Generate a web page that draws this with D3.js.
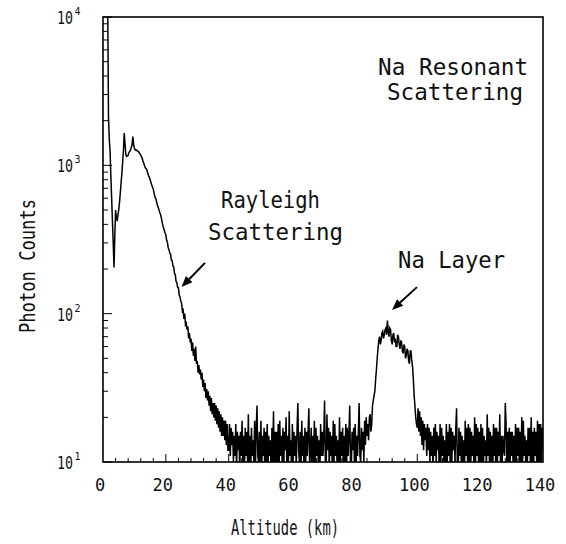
<!DOCTYPE html>
<html>
<head>
<meta charset="utf-8">
<script src="https://cdn.jsdelivr.net/npm/d3@7"></script>
<style>
  body { margin: 0; background: #fff; }
  svg { display: block; }
  text { font-family: "DejaVu Sans Mono", "Liberation Mono", monospace; fill: #111; }
</style>
</head>
<body>
<div id="chart"></div>
<script>
// lidar return, 0.25 km range bins starting at 0 km (one row = 5 km)
const binWidth = 0.25;
const counts = [
  40000, 40000, 40000, 38000, 35000, 30000, 12000, 2100, 1500, 1250, 850, 600, 420, 300, 205, 330, 500, 450, 420, 460,  // 0
  500, 560, 650, 760, 880, 1050, 1250, 1650, 1400, 1180, 1150, 1160, 1170, 1220, 1240, 1270, 1320, 1380, 1560, 1380,  // 5
  1300, 1270, 1260, 1265, 1250, 1240, 1220, 1195, 1170, 1140, 1110, 1060, 1030, 990, 960, 950, 930, 880, 850, 830,  // 10
  800, 770, 735, 715, 690, 650, 615, 600, 575, 545, 525, 505, 485, 470, 450, 420, 395, 380, 365, 350,  // 15
  340, 312, 302, 278, 270, 256, 252, 230, 228, 210, 207, 186, 184, 165, 162, 150, 150, 133, 130, 121,  // 20
  118, 104, 106, 92, 100, 84, 86, 78, 82, 68, 74, 64, 68, 56, 64, 52, 58, 48, 60, 46,  // 25
  48, 40, 45, 39, 42, 36, 40, 32, 36, 30, 34, 27, 31, 26, 30, 24, 28, 22, 27, 21,  // 30
  25, 20, 25, 19, 24, 18, 23, 17, 22, 16, 21, 15, 20, 15, 19, 14, 19, 13, 18, 12,  // 35
  12, 18, 11, 17, 13, 16, 10, 15, 11, 18, 9, 16, 12, 15, 9, 16, 11, 19, 10, 15,  // 40
  9, 17, 11, 16, 10, 21, 9, 15, 8, 17, 11, 14, 10, 19, 9, 17, 24, 11, 10, 16,  // 45
  10, 19, 9, 15, 11, 17, 8, 16, 10, 18, 9, 15, 11, 14, 8, 17, 10, 22, 9, 16,  // 50
  10, 16, 9, 18, 8, 19, 11, 15, 10, 17, 9, 16, 12, 20, 9, 15, 10, 22, 11, 14,  // 55
  8, 18, 10, 16, 11, 15, 9, 17, 25, 12, 10, 16, 9, 19, 11, 15, 8, 17, 10, 16,  // 60
  11, 16, 23, 9, 12, 17, 8, 15, 10, 19, 9, 17, 11, 15, 10, 14, 8, 18, 11, 16,  // 65
  11, 15, 26, 10, 9, 21, 12, 17, 9, 16, 11, 15, 8, 19, 10, 18, 11, 15, 9, 14,  // 70
  9, 20, 10, 16, 11, 17, 8, 15, 10, 18, 9, 17, 11, 15, 24, 10, 9, 16, 12, 17,  // 75
  10, 18, 9, 15, 11, 16, 25, 11, 10, 17, 12, 16, 10, 19, 13, 20, 15, 18, 14, 20,  // 80
  21, 16, 18, 24, 26, 28, 30, 36, 42, 50, 58, 66, 70, 62, 66, 74, 76, 68, 72, 78,  // 85
  80, 72, 90, 76, 70, 80, 78, 66, 62, 72, 74, 64, 68, 60, 60, 72, 70, 62, 58, 66,  // 90
  64, 56, 54, 62, 60, 50, 52, 58, 56, 48, 46, 56, 56, 48, 44, 36, 28, 24, 20, 18,  // 95
  17, 23, 16, 22, 15, 20, 13, 19, 12, 18, 14, 17, 11, 18, 12, 17, 10, 16, 11, 15,  // 100
  9, 17, 11, 18, 10, 16, 12, 15, 8, 18, 10, 17, 11, 15, 9, 14, 10, 18, 9, 16,  // 105
  11, 18, 9, 17, 10, 16, 12, 15, 10, 17, 23, 9, 8, 17, 11, 16, 10, 15, 9, 14,  // 110
  9, 19, 11, 17, 10, 18, 8, 17, 9, 16, 11, 15, 10, 20, 9, 18, 11, 17, 10, 16,  // 115
  10, 18, 9, 17, 8, 15, 11, 14, 9, 21, 11, 17, 9, 16, 10, 15, 8, 18, 11, 17,  // 120
  8, 17, 10, 16, 11, 21, 9, 15, 10, 15, 12, 11, 25, 18, 9, 16, 10, 17, 9, 16,  // 125
  11, 16, 9, 15, 8, 18, 10, 17, 11, 17, 9, 16, 10, 20, 9, 19, 11, 15, 10, 14,  // 130
  9, 17, 11, 17, 10, 20, 9, 16, 8, 17, 11, 16, 10, 19, 9, 18, 10, 18, 9, 17,  // 135
  12  // 140
];

const xTickValues = [0, 20, 40, 60, 80, 100, 120, 140];
const yDecades = [1, 2, 3, 4];

// annotation text: [label, km, counts at baseline, width px]
const labels = [
  ['Na Resonant', 111.4, 4064, 150],
  ['Scattering', 112.0, 2757, 136],
  ['Rayleigh', 53.3, 515, 99],
  ['Scattering', 54.9, 314, 135],
  ['Na Layer', 110.9, 203, 107]
];
// arrows: [tail km, tail counts, tip km, tip counts]
const arrows = [
  [32.45, 220, 24.98, 151],
  [99.9, 151, 91.95, 106]
];

const width = 566;
const height = 544;
const margin = { top: 17, right: 23, bottom: 82, left: 103 };

const svg = d3.select('#chart')
  .append('svg')
  .attr('width', width)
  .attr('height', height);

const xScale = d3.scaleLinear()
  .domain([0, 140])
  .range([margin.left, width - margin.right]);

const yScale = d3.scaleLog()
  .domain([10, 10000])
  .range([height - margin.bottom, margin.top]);

const data = counts.map((c, i) => ({ alt: i * binWidth, c }));

svg.append('clipPath')
  .attr('id', 'plot-clip')
  .append('rect')
  .attr('x', margin.left)
  .attr('y', margin.top)
  .attr('width', width - margin.left - margin.right)
  .attr('height', height - margin.top - margin.bottom);

// the profile
const line = d3.line()
  .x((d) => xScale(d.alt))
  .y((d) => yScale(d.c));

svg.append('path')
  .datum(data)
  .attr('clip-path', 'url(#plot-clip)')
  .attr('fill', 'none')
  .attr('stroke', '#000')
  .attr('stroke-width', 1.5)
  .attr('stroke-linejoin', 'miter')
  .attr('d', line);

// inward ticks
const ticks = svg.append('g').attr('stroke', '#000').attr('stroke-width', 1);
const x0 = margin.left;
const yBottom = height - margin.bottom;

d3.range(4, 140, 4).forEach((v) => {
  const len = v % 20 === 0 ? 8 : 4;
  ticks.append('line')
    .attr('x1', xScale(v)).attr('x2', xScale(v))
    .attr('y1', yBottom).attr('y2', yBottom - len);
});

yScale.ticks().forEach((v) => {
  const major = Math.abs(Math.log10(v) % 1) < 1e-9;
  ticks.append('line')
    .attr('x1', x0).attr('x2', x0 + (major ? 9 : 5))
    .attr('y1', yScale(v)).attr('y2', yScale(v));
});

// frame
svg.append('rect')
  .attr('x', margin.left)
  .attr('y', margin.top)
  .attr('width', width - margin.left - margin.right)
  .attr('height', height - margin.top - margin.bottom)
  .attr('fill', 'none')
  .attr('stroke', '#000')
  .attr('stroke-width', 1.6);

// x tick labels
svg.append('g')
  .selectAll('text')
  .data(xTickValues)
  .join('text')
  .attr('x', (d) => xScale(d) - 3)
  .attr('y', 491)
  .attr('text-anchor', 'middle')
  .attr('font-size', 17)
  .text((d) => d);

// y tick labels 10^n, one text element each with a raised exponent
const yLab = svg.append('g')
  .selectAll('text')
  .data(yDecades)
  .join('text')
  .attr('x', 57)
  .attr('y', (d) => yScale(Math.pow(10, d)) + 7);

yLab.append('tspan')
  .attr('font-size', 18)
  .attr('textLength', 16)
  .attr('lengthAdjust', 'spacingAndGlyphs')
  .text('10');

yLab.append('tspan')
  .attr('font-size', 10)
  .attr('dx', 1.5)
  .attr('dy', -9)
  .text((d) => d);

// axis titles
svg.append('text')
  .attr('x', 285)
  .attr('y', 535)
  .attr('text-anchor', 'middle')
  .attr('font-size', 21)
  .attr('textLength', 108)
  .attr('lengthAdjust', 'spacingAndGlyphs')
  .text('Altitude (km)');

svg.append('text')
  .attr('transform', 'translate(35, 266) rotate(-90)')
  .attr('text-anchor', 'middle')
  .attr('font-size', 21)
  .attr('textLength', 134)
  .attr('lengthAdjust', 'spacingAndGlyphs')
  .text('Photon Counts');

// annotations
svg.append('g')
  .selectAll('text')
  .data(labels)
  .join('text')
  .attr('x', (d) => xScale(d[1]))
  .attr('y', (d) => yScale(d[2]))
  .attr('text-anchor', 'middle')
  .attr('font-size', 23)
  .attr('textLength', (d) => d[3])
  .attr('lengthAdjust', 'spacingAndGlyphs')
  .text((d) => d[0]);

const arrowG = svg.append('g');
arrows.forEach(([ak, ac, bk, bc]) => {
  const x1 = xScale(ak), y1 = yScale(ac);
  const x2 = xScale(bk), y2 = yScale(bc);
  const ang = Math.atan2(y2 - y1, x2 - x1);
  const headLen = 11, headW = 4.5;
  const bx = x2 - headLen * Math.cos(ang), by = y2 - headLen * Math.sin(ang);
  arrowG.append('line')
    .attr('x1', x1).attr('y1', y1)
    .attr('x2', bx).attr('y2', by)
    .attr('stroke', '#000')
    .attr('stroke-width', 2);
  const px = -Math.sin(ang) * headW, py = Math.cos(ang) * headW;
  arrowG.append('path')
    .attr('d', `M${x2},${y2}L${bx + px},${by + py}L${bx - px},${by - py}Z`)
    .attr('fill', '#000');
});
</script>
</body>
</html>
